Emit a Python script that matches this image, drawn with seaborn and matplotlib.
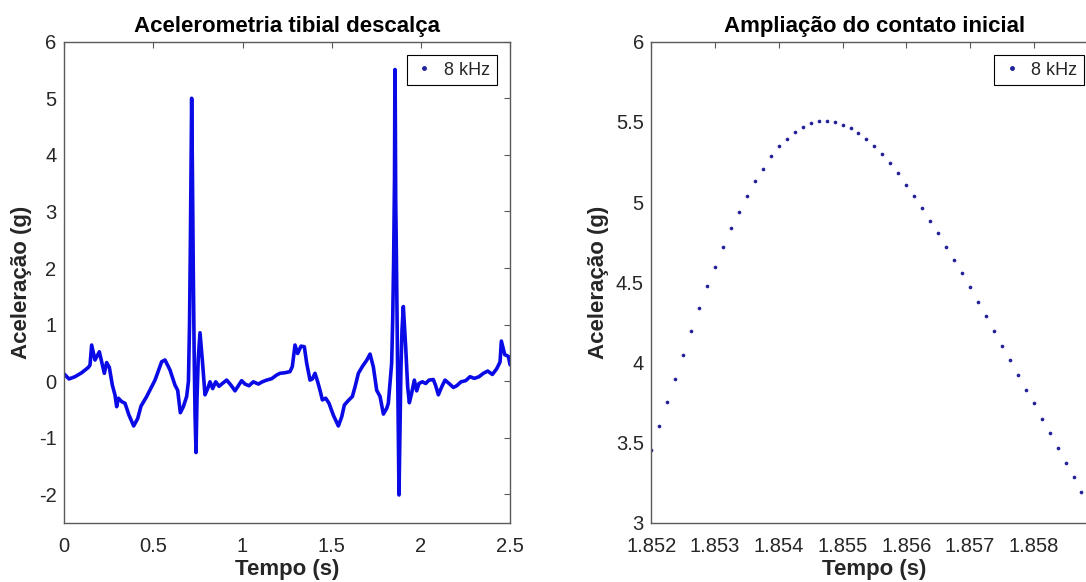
import matplotlib
matplotlib.use("Agg")
import matplotlib.pyplot as plt
import seaborn as sns
import pandas as pd
from matplotlib.lines import Line2D

sns.set_theme(style="white")
plt.rcParams['font.family'] = ['Liberation Sans', 'DejaVu Sans']
plt.rcParams['axes.unicode_minus'] = False

# ---- data ----
# signal before the zoomed window (s, g)
t_before = [0.0, 0.0275, 0.0611, 0.0985, 0.136, 0.1452, 0.1545, 0.173, 0.1975, 0.2255,
            0.2385, 0.2535, 0.2703, 0.2853, 0.2946, 0.304, 0.3227, 0.3414, 0.3638, 0.390,
            0.4124, 0.4311, 0.4629, 0.5096, 0.547, 0.5657, 0.5937, 0.6216, 0.6366, 0.6515,
            0.6684, 0.687, 0.697, 0.703, 0.708, 0.712, 0.715, 0.719, 0.724, 0.729,
            0.734, 0.7394, 0.745, 0.752, 0.7618, 0.7748, 0.7898, 0.8048, 0.8178, 0.8328,
            0.8496, 0.8683, 0.8871, 0.9113, 0.9356, 0.958, 0.9767, 0.9953, 1.014, 1.0364,
            1.0608, 1.0888, 1.1112, 1.1355, 1.1636, 1.1916, 1.2102, 1.2383, 1.2662, 1.2793,
            1.2943, 1.3092, 1.3279, 1.3466, 1.3597, 1.3784, 1.3915, 1.4064, 1.4214, 1.4345,
            1.4476, 1.4663, 1.485, 1.5092, 1.5373, 1.556, 1.571, 1.5934, 1.6158, 1.6308,
            1.6495, 1.6719, 1.6962, 1.7149, 1.7336, 1.7523, 1.771, 1.7897, 1.8083, 1.8174,
            1.8361, 1.842, 1.847, 1.850]
a_before = [0.13, 0.04, 0.08, 0.15, 0.245, 0.286, 0.64, 0.375, 0.52, 0.14,
            0.33, 0.245, -0.067, -0.244, -0.45, -0.30, -0.36, -0.39, -0.60, -0.79,
            -0.66, -0.44, -0.27, 0.02, 0.345, 0.375, 0.198, -0.07, -0.16, -0.556,
            -0.45, -0.27, 0.0, 1.0, 2.5, 4.0, 5.0, 3.8, 2.0, 0.5,
            -0.6, -1.26, -0.3, 0.4, 0.857, 0.375, -0.24, -0.13, -0.01, -0.13,
            -0.01, -0.09, -0.04, 0.02, -0.07, -0.17, -0.08, 0.01, -0.05, -0.08,
            -0.01, -0.05, -0.01, 0.02, 0.045, 0.11, 0.14, 0.15, 0.17, 0.26,
            0.64, 0.49, 0.62, 0.61, 0.32, 0.02, 0.04, 0.14, -0.01, -0.16,
            -0.33, -0.30, -0.39, -0.60, -0.79, -0.63, -0.42, -0.34, -0.27, -0.10,
            0.14, 0.26, 0.37, 0.48, 0.25, -0.16, -0.27, -0.58, -0.48, -0.39,
            0.32, 1.1, 2.1, 2.9]

# zoomed window: 8 kHz samples around the initial contact peak
t_zoom = [1.852000, 1.852125, 1.852250, 1.852375, 1.852500, 1.852625, 1.852750, 1.852875,
          1.853000, 1.853125, 1.853250, 1.853375, 1.853500, 1.853625, 1.853750, 1.853875,
          1.854000, 1.854125, 1.854250, 1.854375, 1.854500, 1.854625, 1.854750, 1.854875,
          1.855000, 1.855125, 1.855250, 1.855375, 1.855500, 1.855625, 1.855750, 1.855875,
          1.856000, 1.856125, 1.856250, 1.856375, 1.856500, 1.856625, 1.856750, 1.856875,
          1.857000, 1.857125, 1.857250, 1.857375, 1.857500, 1.857625, 1.857750, 1.857875,
          1.858000, 1.858125, 1.858250, 1.858375, 1.858500, 1.858625, 1.858750]
a_zoom = [3.453, 3.603, 3.753, 3.898, 4.044, 4.196, 4.339,
          4.475, 4.597, 4.722, 4.836, 4.938, 5.040, 5.130, 5.208, 5.286, 5.352,
          5.396, 5.437, 5.469, 5.491, 5.508, 5.508, 5.498, 5.483, 5.462, 5.431,
          5.392, 5.352, 5.298, 5.246, 5.182, 5.109, 5.038, 4.963, 4.882, 4.807,
          4.720, 4.639, 4.556, 4.468,
          4.377, 4.289, 4.198, 4.104, 4.017, 3.923, 3.828, 3.745, 3.647, 3.558,
          3.466, 3.374, 3.283, 3.192]

# signal after the zoomed window
t_after = [1.862, 1.866, 1.870, 1.874, 1.8772, 1.882, 1.888, 1.894, 1.9015, 1.9146,
           1.9258, 1.9352, 1.9482, 1.9632, 1.9763, 1.9894, 2.0081, 2.0268, 2.0455, 2.0698,
           2.0829, 2.0978, 2.1165, 2.1352, 2.1577, 2.182, 2.2007, 2.225, 2.2511, 2.2754,
           2.2997, 2.3259, 2.3502, 2.3745, 2.4006, 2.4249, 2.4436, 2.451, 2.47, 2.49, 2.5]
a_after = [2.4, 1.2, 0.0, -1.2, -2.01, -1.0, 0.2, 0.9, 1.32, 0.61,
           -0.10, -0.38, -0.21, 0.02, -0.17, -0.04, -0.01, -0.04, 0.02, 0.03,
           -0.08, -0.24, -0.10, 0.02, -0.04, -0.11, -0.08, -0.01, 0.01, 0.08,
           0.05, 0.08, 0.14, 0.18, 0.12, 0.22, 0.34, 0.71, 0.47, 0.44, 0.29]

x1_ticks = [0, 0.5, 1, 1.5, 2, 2.5]
x1_labels = ["0", "0.5", "1", "1.5", "2", "2.5"]
y1_ticks = [-2, -1, 0, 1, 2, 3, 4, 5, 6]
y1_labels = ["-2", "-1", "0", "1", "2", "3", "4", "5", "6"]
x2_ticks = [1.852, 1.853, 1.854, 1.855, 1.856, 1.857, 1.858]
x2_labels = ["1.852", "1.853", "1.854", "1.855", "1.856", "1.857", "1.858"]
y2_ticks = [3, 3.5, 4, 4.5, 5, 5.5, 6]
y2_labels = ["3", "3.5", "4", "4.5", "5", "5.5", "6"]

legend_label = "8 kHz"
title1 = "Acelerometria tibial descalça"
title2 = "Ampliação do contato inicial"
xlabel = "Tempo (s)"
ylabel = "Aceleração (g)"

# ---- styling ----
LINE_BLUE = "#0a0ae6"
DOT_BLUE = "#22229c"
TXT = "#262626"
SPINE = "#5a5a5a"

W, H = 1086, 582
fig = plt.figure(figsize=(W / 100, H / 100), dpi=100)
ax1 = fig.add_axes([64.1 / W, 59.3 / H, 446 / W, 481 / H])
ax2 = fig.add_axes([651.4 / W, 59.3 / H, 446 / W, 481 / H])

df_full = pd.DataFrame({"t": t_before + t_zoom + t_after,
                        "a": a_before + a_zoom + a_after})
sns.lineplot(data=df_full, x="t", y="a", ax=ax1, color=LINE_BLUE,
             linewidth=2.6, estimator=None, sort=False)

df_zoom = pd.DataFrame({"t": t_zoom, "a": a_zoom})
sns.scatterplot(data=df_zoom, x="t", y="a", ax=ax2, color=DOT_BLUE,
                s=7, linewidth=0, edgecolor=None)

ax1.set_xlim(0, 2.5)
ax1.set_ylim(-2.5, 6)
ax2.set_xlim(1.852, 1.859)
ax2.set_ylim(3, 6)

ax1.set_xticks(x1_ticks)
ax1.set_xticklabels(x1_labels)
ax1.set_yticks(y1_ticks)
ax1.set_yticklabels(y1_labels)
ax2.set_xticks(x2_ticks)
ax2.set_xticklabels(x2_labels)
ax2.set_yticks(y2_ticks)
ax2.set_yticklabels(y2_labels)

for ax, ttl in ((ax1, title1), (ax2, title2)):
    for sp in ax.spines.values():
        sp.set_visible(True)
        sp.set_color(SPINE)
        sp.set_linewidth(1.0)
    ax.tick_params(axis="both", which="both", direction="in", top=True, right=True,
                   length=4, width=0.8, color=SPINE, labelcolor=TXT, labelsize=14.5)
    ax.tick_params(axis="x", pad=10.0)
    ax.tick_params(axis="y", pad=5.5)
    ax.set_xlabel(xlabel, fontsize=16, fontweight="bold", color=TXT, labelpad=2.5)
    ax.set_ylabel(ylabel, fontsize=16, fontweight="bold", color=TXT, labelpad=5)
    ax.set_title(ttl, fontsize=16, fontweight="bold", color="black", pad=7)
    handle = Line2D([], [], marker=".", linestyle="none", color=DOT_BLUE, markersize=5)
    leg = ax.legend([handle], [legend_label], loc="upper right", frameon=True,
                    fancybox=False, edgecolor="black", framealpha=1, fontsize=13,
                    handlelength=1.2, handletextpad=0.5, borderaxespad=0.75,
                    borderpad=0.35)
    leg.get_frame().set_linewidth(0.8)

fig.savefig("out.png", dpi=100)
